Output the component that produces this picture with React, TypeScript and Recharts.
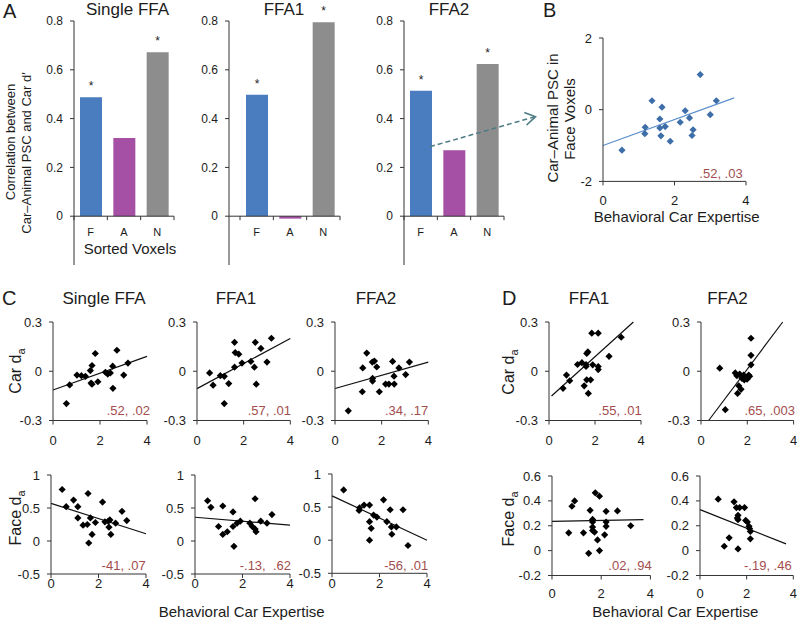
import React from 'react';
import {
  BarChart,
  Bar,
  Cell,
  LabelList,
  ScatterChart,
  Scatter,
  XAxis,
  YAxis,
  ReferenceLine,
} from 'recharts';

type Pt = [number, number];

const FONT = '"Liberation Sans", Arial, Helvetica, sans-serif';
const INK = '#1c1c1c';
const AXIS = '#333';
const STAT_RED = '#a34d4d';

// ---- A: correlation between Car-Animal PSC and Car d', by sorted voxels
const voxelGroups = ['F', 'A', 'N'];
const corrSingleFFA = [0.487, 0.32, 0.672];
const corrFFA1 = [0.498, -0.01, 0.795];
const corrFFA2 = [0.514, 0.27, 0.624];
const sigSingleFFA = [1, 0, 1];
const sigFFA1 = [1, 0, 1];
const sigFFA2 = [1, 0, 1];
const corrTicks = [-0.2, 0, 0.2, 0.4, 0.6, 0.8];
const groupColors = ['#4a7dbf', '#a54fa5', '#8d8d8d'];

// ---- B: Car-Animal PSC in face voxels vs expertise
const bFacePSC: Pt[] = [
  [0.53, -1.13], [1.18, -0.49], [1.17, -0.67], [1.37, 0.25], [1.65, 0.07],
  [1.59, -0.26], [1.59, -0.51], [1.74, -0.47], [1.62, -0.73], [1.88, -0.88],
  [2.16, -0.35], [2.3, -0.03], [2.42, -0.23], [2.52, -0.56], [2.49, -0.72],
  [2.72, 0.98], [3.0, -0.14], [3.17, 0.25],
];
const bFacePSCFit: Pt[] = [[0, -1.0], [3.67, 0.33]];

// ---- C: car / face da vs expertise
const cSingleCar: Pt[] = [
  [0.57, -0.197], [0.71, -0.083], [1.02, -0.023], [1.21, -0.027], [1.38, -0.031],
  [1.59, 0.004], [1.62, -0.072], [1.66, 0.035], [1.66, -0.079], [1.8, 0.108],
  [1.91, -0.064], [2.23, -0.006], [2.33, -0.017], [2.44, -0.01], [2.54, 0.031],
  [2.55, -0.104], [2.72, 0.128], [3.01, -0.023], [3.19, 0.05],
];
const cSingleCarFit: Pt[] = [[0, -0.114], [4, 0.091]];

const cFFA1Car: Pt[] = [
  [0.54, -0.01], [0.69, -0.085], [1.0, -0.027], [1.17, -0.031], [1.17, -0.197],
  [1.36, -0.075], [1.61, 0.176], [1.61, 0.025], [1.64, 0.114], [1.79, 0.104],
  [1.93, 0.05], [2.31, 0.06], [2.46, 0.025], [2.5, 0.176], [2.54, -0.079],
  [2.74, 0.139], [3.0, 0.056], [3.19, 0.201],
];
const cFFA1CarFit: Pt[] = [[0, -0.106], [4, 0.2]];

const cFFA2Car: Pt[] = [
  [0.57, -0.241], [1.17, -0.125], [1.19, 0.02], [1.36, 0.111], [1.6, 0.056],
  [1.69, 0.062], [1.79, 0.026], [1.61, -0.044], [1.61, -0.06], [1.9, -0.125],
  [2.17, -0.078], [2.31, -0.078], [2.54, -0.078], [2.47, 0.06], [2.53, -0.03],
  [2.74, 0.02], [3.03, -0.02], [3.19, 0.056],
];
const cFFA2CarFit: Pt[] = [[0, -0.105], [4, 0.056]];

const cSingleFace: Pt[] = [
  [0.47, 0.78], [0.64, 0.52], [0.95, 0.62], [1.13, 0.52], [1.13, 0.35],
  [1.35, 0.24], [1.53, 0.25], [1.56, 0.72], [1.66, 0.35], [1.59, -0.03],
  [1.73, 0.1], [1.87, 0.28], [2.17, 0.59], [2.27, 0.29], [2.41, 0.3],
  [2.48, 0.32], [2.44, 0.21], [2.52, 0.1], [2.72, 0.27], [2.99, 0.45],
  [3.19, 0.31],
];
const cSingleFaceFit: Pt[] = [[0, 0.57], [4, 0.11]];

const cFFA1Face: Pt[] = [
  [0.53, 0.61], [0.67, 0.51], [0.99, 0.22], [1.17, 0.53], [1.17, 0.1],
  [1.36, 0.14], [1.6, 0.44], [1.6, 0.22], [1.64, -0.08], [1.77, 0.27],
  [1.91, 0.3], [2.31, 0.27], [2.41, 0.22], [2.53, 0.64], [2.53, 0.18],
  [2.57, 0.14], [2.77, 0.3], [3.03, 0.27], [3.24, 0.4],
];
const cFFA1FaceFit: Pt[] = [[0, 0.36], [4, 0.24]];

const cFFA2Face: Pt[] = [
  [0.49, 0.76], [1.14, 0.45], [1.16, 0.49], [1.35, 0.53], [1.58, 0.53],
  [1.58, 0.28], [1.65, 0.18], [1.58, 0.0], [1.75, 0.38], [1.89, 0.35],
  [2.17, 0.61], [2.31, 0.28], [2.45, 0.46], [2.5, 0.2], [2.52, 0.09],
  [2.71, 0.2], [2.99, 0.46], [3.2, -0.08],
];
const cFFA2FaceFit: Pt[] = [[0, 0.67], [4, 0.0]];

// ---- D: same, FFA1 / FFA2 separately
const dFFA1Car: Pt[] = [
  [0.61, -0.104], [0.76, -0.023], [0.9, -0.058], [1.24, 0.041], [1.43, 0.052],
  [1.53, -0.089], [1.61, 0.041], [1.64, 0.108], [1.69, 0.118], [1.61, 0.029],
  [1.64, -0.052], [1.71, -0.135], [1.81, -0.052], [1.86, 0.232], [1.9, 0.039],
  [2.14, 0.232], [2.14, 0.029], [2.14, 0.01], [2.61, 0.091], [3.14, 0.207],
];
const dFFA1CarFit: Pt[] = [[0.11, -0.151], [3.67, 0.3]];

const dFFA2Car: Pt[] = [
  [0.81, 0.019], [1.05, -0.234], [1.48, -0.01], [1.55, -0.027], [1.58, -0.135],
  [1.63, -0.089], [1.67, -0.017], [1.73, -0.11], [1.77, -0.043], [1.84, -0.023],
  [1.87, -0.052], [1.96, -0.037], [2.06, -0.023], [2.1, -0.031], [2.16, 0.039],
  [2.16, 0.097], [2.16, 0.201], [1.99, -0.048],
];
const dFFA2CarFit: Pt[] = [[0.33, -0.3], [3.53, 0.3]];

const dFFA1Face: Pt[] = [
  [0.68, 0.143], [0.81, 0.357], [0.92, 0.4], [1.28, 0.143], [1.55, 0.324],
  [1.49, -0.022], [1.65, 0.251], [1.65, 0.23], [1.65, 0.189], [1.65, 0.162],
  [1.76, 0.465], [1.73, 0.149], [1.85, 0.086], [1.93, 0.438], [1.93, 0.0],
  [2.14, 0.127], [2.2, 0.316], [2.2, 0.23], [2.2, 0.195], [2.66, 0.319],
  [3.2, 0.2],
];
const dFFA1FaceFit: Pt[] = [[0, 0.235], [3.72, 0.25]];

const dFFA2Face: Pt[] = [
  [0.78, 0.414], [1.04, 0.035], [1.25, 0.103], [1.46, 0.392], [1.56, 0.346],
  [1.63, 0.014], [1.63, 0.284], [1.6, 0.262], [1.63, 0.249], [1.7, 0.346],
  [1.91, 0.346], [1.96, 0.243], [2.03, 0.23], [2.1, 0.195], [2.13, 0.176],
  [2.16, 0.154], [2.16, 0.095],
];
const dFFA2FaceFit: Pt[] = [[0, 0.33], [3.69, 0.054]];

const expertiseTicks = [0, 2, 4];
const carTicks = [-0.3, 0, 0.3];
const cFaceTicks = [-0.5, 0, 0.5, 1];
const dFaceTicks = [-0.2, 0, 0.2, 0.4, 0.6];
const bTicks = [-2, 0, 2];

const YW = 46; // y-axis width in every chart
const PR = 10; // right margin

function BarPanel({
  axisX,
  w,
  padLeft,
  values,
  sig,
}: {
  axisX: number;
  w: number;
  padLeft: number;
  values: number[];
  sig: number[];
}) {
  const top = 21;
  const h = 244;
  const mt = 20;
  const yMin = corrTicks[0];
  const yMax = corrTicks[corrTicks.length - 1];
  const data = voxelGroups.map((g, i) => ({ group: g, r: values[i], sig: sig[i] }));
  const zeroY = mt + (h * (yMax - 0)) / (yMax - yMin);
  const band = (w - padLeft) / voxelGroups.length;

  const groupTick = (props: any) => {
    const { x, index, payload } = props;
    return (
      <g>
        <line x1={x - band / 2} x2={x - band / 2} y1={zeroY} y2={zeroY + 4} stroke={AXIS} />
        {index === voxelGroups.length - 1 && (
          <line x1={x + band / 2} x2={x + band / 2} y1={zeroY} y2={zeroY + 4} stroke={AXIS} />
        )}
        <text x={x} y={zeroY + 20} textAnchor="middle" fontSize={11} fill={INK} fontFamily={FONT}>
          {payload.value}
        </text>
      </g>
    );
  };

  const star = (props: any) => {
    const { x, y, width, value } = props;
    if (!value) return null;
    return (
      <text x={x + width / 2} y={y - 7} textAnchor="middle" fontSize={12} fill={INK} fontFamily={FONT}>
        *
      </text>
    );
  };

  return (
    <div style={{ position: 'absolute', left: axisX - YW, top: top - mt }}>
      <BarChart
        width={YW + w + PR}
        height={mt + h + 2}
        data={data}
        margin={{ top: mt, right: PR, bottom: 0, left: 0 }}
        barSize={22}
      >
        <XAxis
          dataKey="group"
          axisLine={false}
          tickLine={false}
          tickSize={0}
          tickMargin={0}
          height={2}
          interval={0}
          padding={{ left: padLeft, right: 0 }}
          tick={groupTick}
        />
        <YAxis
          type="number"
          domain={[yMin, yMax]}
          ticks={corrTicks}
          allowDataOverflow
          width={YW}
          tickSize={4}
          tickMargin={7}
          stroke={AXIS}
          tick={{ fontSize: 12, fill: INK, fontFamily: FONT }}
        />
        <ReferenceLine y={0} stroke={AXIS} />
        <Bar dataKey="r" isAnimationActive={false}>
          {data.map((d, i) => (
            <Cell key={d.group} fill={groupColors[i]} />
          ))}
          <LabelList dataKey="sig" content={star} />
        </Bar>
      </BarChart>
    </div>
  );
}

function diamondShape(r: number, fill: string) {
  return (props: any) => {
    const { cx, cy } = props;
    return (
      <polygon
        points={`${cx},${cy - r} ${cx + r},${cy} ${cx},${cy + r} ${cx - r},${cy}`}
        fill={fill}
      />
    );
  };
}

function ScatterPanel({
  axisX,
  top,
  w,
  h,
  yTicks,
  pts,
  fit,
  xTickMargin = 11,
  color = '#000',
  lineColor = '#111',
}: {
  axisX: number;
  top: number;
  w: number;
  h: number;
  yTicks: number[];
  pts: Pt[];
  fit: Pt[];
  xTickMargin?: number;
  color?: string;
  lineColor?: string;
}) {
  const mt = 8;
  const xh = 32;
  const data = pts.map(([x, y]) => ({ x, y }));
  const [a, b] = fit;
  return (
    <div style={{ position: 'absolute', left: axisX - YW, top: top - mt }}>
      <ScatterChart
        width={YW + w + PR}
        height={mt + h + xh}
        margin={{ top: mt, right: PR, bottom: 0, left: 0 }}
      >
        <XAxis
          type="number"
          dataKey="x"
          domain={[expertiseTicks[0], expertiseTicks[expertiseTicks.length - 1]]}
          ticks={expertiseTicks}
          allowDataOverflow
          height={xh}
          tickSize={4}
          tickMargin={xTickMargin}
          stroke={AXIS}
          tick={{ fontSize: 13, fill: INK, fontFamily: FONT }}
        />
        <YAxis
          type="number"
          dataKey="y"
          domain={[yTicks[0], yTicks[yTicks.length - 1]]}
          ticks={yTicks}
          allowDataOverflow
          width={YW}
          tickSize={4}
          tickMargin={7}
          stroke={AXIS}
          tick={{ fontSize: 13, fill: INK, fontFamily: FONT }}
        />
        <ReferenceLine
          segment={[
            { x: a[0], y: a[1] },
            { x: b[0], y: b[1] },
          ]}
          stroke={lineColor}
          strokeWidth={1.2}
          ifOverflow="visible"
        />
        <Scatter data={data} isAnimationActive={false} shape={diamondShape(3.6, color)} />
      </ScatterChart>
    </div>
  );
}

function VText({ x, y, size, children }: { x: number; y: number; size: number; children: React.ReactNode }) {
  return (
    <text
      x={x}
      y={y}
      transform={`rotate(-90 ${x} ${y})`}
      textAnchor="middle"
      fontSize={size}
      fontFamily={FONT}
      fill={INK}
    >
      {children}
    </text>
  );
}

function Txt({
  x,
  y,
  size,
  anchor = 'middle',
  color = INK,
  children,
}: {
  x: number;
  y: number;
  size: number;
  anchor?: 'start' | 'middle' | 'end';
  color?: string;
  children: React.ReactNode;
}) {
  return (
    <text x={x} y={y} textAnchor={anchor} fontSize={size} fontFamily={FONT} fill={color} style={{ whiteSpace: 'pre' }}>
      {children}
    </text>
  );
}

const da = (label: string) => (
  <>
    {label} d
    <tspan fontSize={11} dy={4}>
      a
    </tspan>
  </>
);

export default function App() {
  return (
    <div
      style={{
        position: 'absolute',
        left: 0,
        top: 0,
        width: 798,
        height: 622,
        background: '#fff',
        fontFamily: FONT,
        overflow: 'hidden',
      }}
    >
      <BarPanel axisX={74} w={100} padLeft={0} values={corrSingleFFA} sig={sigSingleFFA} />
      <BarPanel axisX={229} w={111} padLeft={11} values={corrFFA1} sig={sigFFA1} />
      <BarPanel axisX={404} w={100} padLeft={0} values={corrFFA2} sig={sigFFA2} />

      <ScatterPanel
        axisX={602.7}
        top={38.3}
        w={143}
        h={143.4}
        yTicks={bTicks}
        pts={bFacePSC}
        fit={bFacePSCFit}
        xTickMargin={10}
        color="#3d6ea8"
        lineColor="#5b90cc"
      />

      <ScatterPanel axisX={52.7} top={322} w={94} h={98.5} yTicks={carTicks} pts={cSingleCar} fit={cSingleCarFit} />
      <ScatterPanel axisX={196.7} top={322} w={93.3} h={98.5} yTicks={carTicks} pts={cFFA1Car} fit={cFFA1CarFit} />
      <ScatterPanel axisX={335} top={322} w={93.3} h={98.5} yTicks={carTicks} pts={cFFA2Car} fit={cFFA2CarFit} />
      <ScatterPanel axisX={549} top={322} w={92} h={98.5} yTicks={carTicks} pts={dFFA1Car} fit={dFFA1CarFit} />
      <ScatterPanel axisX={700.7} top={322} w={92.6} h={98.5} yTicks={carTicks} pts={dFFA2Car} fit={dFFA2CarFit} />

      <ScatterPanel axisX={51} top={475} w={95} h={99} yTicks={cFaceTicks} pts={cSingleFace} fit={cSingleFaceFit} xTickMargin={1} />
      <ScatterPanel axisX={195} top={475} w={95} h={99} yTicks={cFaceTicks} pts={cFFA1Face} fit={cFFA1FaceFit} xTickMargin={1} />
      <ScatterPanel axisX={332.3} top={474} w={95} h={99.3} yTicks={cFaceTicks} pts={cFFA2Face} fit={cFFA2FaceFit} xTickMargin={1} />
      <ScatterPanel axisX={552.3} top={476} w={98.4} h={99.5} yTicks={dFaceTicks} pts={dFFA1Face} fit={dFFA1FaceFit} xTickMargin={9} />
      <ScatterPanel axisX={700} top={476} w={93.3} h={99.5} yTicks={dFaceTicks} pts={dFFA2Face} fit={dFFA2FaceFit} xTickMargin={9} />

      <svg
        width={798}
        height={622}
        style={{ position: 'absolute', left: 0, top: 0, pointerEvents: 'none' }}
      >
        {/* panel letters */}
        <Txt x={3} y={18} size={20} anchor="start">A</Txt>
        <Txt x={543} y={17} size={20} anchor="start">B</Txt>
        <Txt x={2} y={305} size={20} anchor="start">C</Txt>
        <Txt x={502} y={305} size={20} anchor="start">D</Txt>

        {/* titles */}
        <Txt x={127.5} y={15} size={17}>Single FFA</Txt>
        <Txt x={284} y={15} size={17}>FFA1</Txt>
        <Txt x={449} y={15} size={17}>FFA2</Txt>
        <Txt x={104} y={304} size={17}>Single FFA</Txt>
        <Txt x={236} y={304} size={17}>FFA1</Txt>
        <Txt x={376} y={304} size={17}>FFA2</Txt>
        <Txt x={589} y={304} size={17}>FFA1</Txt>
        <Txt x={727.5} y={304} size={17}>FFA2</Txt>

        {/* axis titles */}
        <VText x={15} y={142} size={13}>Correlation between</VText>
        <VText x={30.5} y={153} size={13}>Car–Animal PSC and Car d′</VText>
        <Txt x={130} y={254} size={15}>Sorted Voxels</Txt>

        <VText x={558} y={118} size={15}>Car–Animal PSC in</VText>
        <VText x={574.5} y={119} size={15}>Face Voxels</VText>
        <Txt x={676.7} y={222} size={15}>Behavioral Car Expertise</Txt>

        <VText x={21} y={371} size={16}>{da('Car')}</VText>
        <VText x={21} y={518} size={16}>{da('Face')}</VText>
        <VText x={514} y={372} size={16}>{da('Car')}</VText>
        <VText x={514} y={519} size={16}>{da('Face')}</VText>
        <Txt x={241.7} y={617} size={15}>Behavioral Car Expertise</Txt>
        <Txt x={675.3} y={617} size={15}>Behavioral Car Expertise</Txt>

        {/* r, p values */}
        <Txt x={742.7} y={177.5} size={13} anchor="end" color={STAT_RED}>.52, .03</Txt>
        <Txt x={150} y={415} size={13} anchor="end" color={STAT_RED}>.52, .02</Txt>
        <Txt x={291} y={415} size={13} anchor="end" color={STAT_RED}>.57, .01</Txt>
        <Txt x={428.3} y={415} size={13} anchor="end" color={STAT_RED}>.34, .17</Txt>
        <Txt x={641.7} y={415} size={13} anchor="end" color={STAT_RED}>.55, .01</Txt>
        <Txt x={795} y={415} size={13} anchor="end" color={STAT_RED}>.65, .003</Txt>
        <Txt x={145.7} y={569.5} size={13} anchor="end" color={STAT_RED}>-41, .07</Txt>
        <Txt x={291} y={569.5} size={13} anchor="end" color={STAT_RED}>-.13,  .62</Txt>
        <Txt x={428.3} y={569.5} size={13} anchor="end" color={STAT_RED}>-56, .01</Txt>
        <Txt x={651.7} y={569.5} size={13} anchor="end" color={STAT_RED}>.02, .94</Txt>
        <Txt x={791.7} y={569.5} size={13} anchor="end" color={STAT_RED}>-.19, .46</Txt>

        {/* dashed arrow from FFA2 face-voxel bar to panel B */}
        <line x1={430} y1={146.7} x2={534} y2={117} stroke="#4d7c84" strokeWidth={1.5} strokeDasharray="5 3" />
        <polyline
          points="524.3,112.6 535.5,116.7 526.6,125"
          fill="none"
          stroke="#4d7c84"
          strokeWidth={1.6}
        />
      </svg>
    </div>
  );
}
